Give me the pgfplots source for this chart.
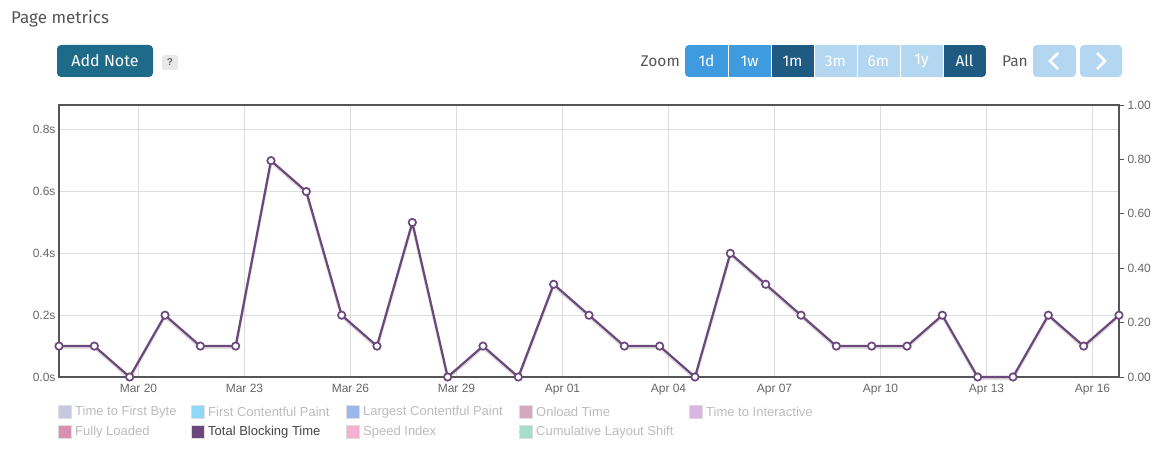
\documentclass[border=0pt]{standalone}
\usepackage{pgfplots}
\pgfplotsset{compat=1.18}
\usepackage{fontspec}
\setmainfont{Liberation Sans}
\newfontfamily\uifont{Fira Sans}
\definecolor{frame}{HTML}{555555}
\definecolor{ticktxt}{HTML}{666666}
\definecolor{gridc}{HTML}{DDDDDD}
\definecolor{tbt}{HTML}{6B477C}
\definecolor{btnteal}{HTML}{1D6A89}
\definecolor{zlight}{HTML}{3E9BE0}
\definecolor{zdark}{HTML}{1F5A82}
\definecolor{zpale}{HTML}{B3D7F0}
\definecolor{legoff}{HTML}{BBBBBB}
\definecolor{legon}{HTML}{444444}
\definecolor{hdr}{HTML}{555555}
\definecolor{cTTFB}{HTML}{C5CAE0}
\definecolor{cFCP}{HTML}{8FD8F8}
\definecolor{cLCP}{HTML}{9DB7EE}
\definecolor{cOnload}{HTML}{D4A9BF}
\definecolor{cTTI}{HTML}{D8B5E4}
\definecolor{cFL}{HTML}{D98FB0}
\definecolor{cSI}{HTML}{F5B0D2}
\definecolor{cCLS}{HTML}{A3E0CC}
\pgfplotstableread{
d v
-2.25 0.1
-1.25 0.1
-0.25 0.0
0.75 0.2
1.75 0.1
2.75 0.1
3.75 0.7
4.75 0.6
5.75 0.2
6.75 0.1
7.75 0.5
8.75 0.0
9.75 0.1
10.75 0.0
11.75 0.3
12.75 0.2
13.75 0.1
14.75 0.1
15.75 0.0
16.75 0.4
17.75 0.3
18.75 0.2
19.75 0.1
20.75 0.1
21.75 0.1
22.75 0.2
23.75 0.0
24.75 0.0
25.75 0.2
26.75 0.1
27.75 0.2
}\tbtdata
\newcommand{\legitem}[5]{%
  \filldraw[fill=#3, draw=black!13, line width=1pt] (#1,#2-6.5) rectangle (#1+13,#2+6.5);
  \node[anchor=west, inner sep=0, text=#4, font=\fontsize{13}{15}\selectfont] at (#1+17,#2) {#5};}
\begin{document}
\begin{tikzpicture}[x=1pt,y=1pt]
\path[use as bounding box] (0pt,0pt) rectangle (1165pt,456pt);
% header
\node[anchor=west, text=hdr, font=\uifont\fontsize{17}{19}\selectfont, inner sep=0] at (11,437) {Page metrics};
% Add note button
\fill[btnteal, rounded corners=4pt] (57,379) rectangle (153,411);
\node[text=white, font=\uifont\fontsize{16}{18}\selectfont] at (105,395) {Add Note};
\fill[black!9, rounded corners=2pt] (162,386) rectangle (178,401);
\node[text=ticktxt, font=\bfseries\fontsize{10}{11}\selectfont] at (170,393.5) {?};
% zoom
\node[anchor=east, text=hdr, font=\uifont\fontsize{15.5}{17}\selectfont, inner sep=0] at (680,395) {Zoom};
\begin{scope}
\clip[rounded corners=4pt] (685,379) rectangle (986,411);
\fill[zlight] (685,379) rectangle (771,411);
\fill[zdark] (771,379) rectangle (814,411);
\fill[zpale] (814,379) rectangle (943,411);
\fill[zdark] (943,379) rectangle (986,411);
\foreach \xx in {728,771,814,857,900,943} \draw[white, line width=0.8pt] (\xx,379) -- (\xx,411);
\end{scope}
\foreach \xx/\lab in {706.5/1d,749.5/1w,792.5/1m,835.5/3m,878.5/6m,921.5/1y,964.5/All}
  \node[text=white, font=\uifont\fontsize{15.5}{17}\selectfont] at (\xx,395) {\lab};
% pan
\node[anchor=east, text=hdr, font=\uifont\fontsize{15.5}{17}\selectfont, inner sep=0] at (1028,395) {Pan};
\fill[zpale, rounded corners=4pt] (1033,379) rectangle (1076,411);
\fill[zpale, rounded corners=4pt] (1080,379) rectangle (1122,411);
\draw[white, line width=2.6pt] (1058,403) -- (1050,395) -- (1058,387);
\draw[white, line width=2.6pt] (1097,403) -- (1105,395) -- (1097,387);
% right axis (drawn first)
\begin{axis}[
  at={(59pt,79pt)}, anchor=south west, scale only axis,
  width=1060pt, height=272pt,
  xmin=-2.25, xmax=27.75, ymin=0, ymax=1,
  axis x line=none, axis y line*=right,
  axis line style={draw=frame, line width=2pt, -},
  ytick={0,0.2,0.4,0.6,0.8,1},
  yticklabels={0.00,0.20,0.40,0.60,0.80,1.00},
  tick align=outside, major tick length=5pt,
  every tick/.style={draw=frame, line width=0.8pt},
  tick label style={font=\fontsize{12}{14}\selectfont, text=ticktxt},
  /pgf/number format/assume math mode=true,
]
\addplot[draw=none] coordinates {(0,0)};
\end{axis}
% main axis
\begin{axis}[
  at={(59pt,79pt)}, anchor=south west, scale only axis,
  width=1060pt, height=272pt,
  xmin=-2.25, xmax=27.75, ymin=0, ymax=0.88,
  axis line style={draw=frame, line width=2pt},
  xtick={0,3,6,9,12,15,18,21,24,27},
  xticklabels={Mar 20,Mar 23,Mar 26,Mar 29,Apr 01,Apr 04,Apr 07,Apr 10,Apr 13,Apr 16},
  ytick={0,0.2,0.4,0.6,0.8},
  yticklabels={0.0s,0.2s,0.4s,0.6s,0.8s},
  ytick pos=left, xtick pos=bottom,
  major tick length=0pt,
  grid=major, major grid style={draw=gridc, line width=0.8pt},
  tick label style={font=\fontsize{12}{14}\selectfont, text=ticktxt},
  xticklabel style={yshift=-4pt},
  /pgf/number format/assume math mode=true,
  clip=false,
]
\addplot[black, opacity=0.12, line width=3pt, yshift=-1.5pt, forget plot] table[x=d,y=v] {\tbtdata};
\addplot[tbt, line width=2.2pt, mark=*, mark size=3.7pt,
  mark options={fill=white, draw=tbt, line width=1.7pt}] table[x=d,y=v] {\tbtdata};
\end{axis}
% legend
\legitem{58}{44}{cTTFB}{legoff}{Time to First Byte}
\legitem{191}{44}{cFCP}{legoff}{First Contentful Paint}
\legitem{346}{44}{cLCP}{legoff}{Largest Contentful Paint}
\legitem{519}{44}{cOnload}{legoff}{Onload Time}
\legitem{689}{44}{cTTI}{legoff}{Time to Interactive}
\legitem{58}{24}{cFL}{legoff}{Fully Loaded}
\legitem{191}{24}{tbt}{legon}{Total Blocking Time}
\legitem{346}{24}{cSI}{legoff}{Speed Index}
\legitem{519}{24}{cCLS}{legoff}{Cumulative Layout Shift}
\end{tikzpicture}
\end{document}
